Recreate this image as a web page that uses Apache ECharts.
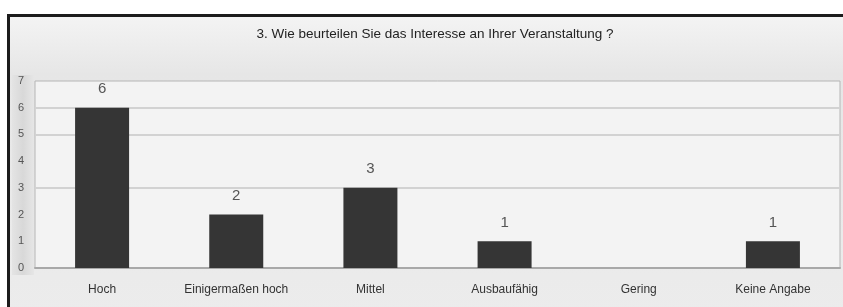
<!DOCTYPE html>
<html>
<head>
<meta charset="utf-8">
<script src="https://cdn.jsdelivr.net/npm/echarts@6/dist/echarts.min.js"></script>
<style>
  html, body { margin: 0; padding: 0; background: #fff; }
  #main { width: 843px; height: 307px; }
</style>
</head>
<body>
<div id="main"></div>
<script>
// Daten der Umfrage
let categories = ['Hoch', 'Einigermaßen hoch', 'Mittel', 'Ausbaufähig', 'Gering', 'Keine Angabe'];
let counts = [6, 2, 3, 1, 0, 1];
let yTicks = [0, 1, 2, 3, 4, 5, 6, 7];
let titleText = '3. Wie beurteilen Sie das Interesse an Ihrer Veranstaltung ?';

let myChart = echarts.init(document.getElementById('main'));

let option = {
  backgroundColor: '#fff',
  animation: false,
  textStyle: { fontFamily: 'Liberation Sans, Arial, sans-serif' },
  graphic: [
    // äußerer Rahmen mit Verlauf
    {
      type: 'rect', z: -10,
      shape: { x: 8.5, y: 15.5, width: 840, height: 300 },
      style: {
        fill: new echarts.graphic.LinearGradient(0, 0, 0, 1, [
          { offset: 0, color: '#f4f4f4' },
          { offset: 0.2, color: '#e6e6e6' },
          { offset: 1, color: '#ececec' }
        ]),
        stroke: '#1c1c1c', lineWidth: 3
      }
    },
    // Streifen hinter den y-Labels
    {
      type: 'rect', z: -9,
      shape: { x: 12, y: 75, width: 22, height: 200 },
      style: {
        fill: new echarts.graphic.LinearGradient(0, 0, 1, 0, [
          { offset: 0, color: '#e4e4e4' },
          { offset: 0.5, color: '#d8d8d8' },
          { offset: 1, color: '#e6e6e6' }
        ])
      }
    }
  ],
  title: {
    text: titleText,
    left: 430, top: 22,
    textAlign: 'center',
    textStyle: { fontSize: 13.5, fontWeight: 'normal', color: '#222' }
  },
  grid: {
    left: 35, right: 3, top: 81, bottom: 39,
    show: true,
    backgroundColor: '#f3f3f3',
    borderColor: '#b5b5b5',
    borderWidth: 1
  },
  xAxis: {
    type: 'category',
    data: categories,
    axisLine: { show: true, lineStyle: { color: '#a8a8a8', width: 2 } },
    axisTick: { show: false },
    axisLabel: { color: '#333', fontSize: 12, margin: 16, interval: 0 }
  },
  yAxis: {
    type: 'value',
    min: yTicks[0],
    max: yTicks[yTicks.length - 1],
    interval: 1,
    axisLine: { show: false },
    axisTick: { show: false },
    axisLabel: { color: '#555', fontSize: 11, margin: 11 },
    splitLine: {
      show: true,
      lineStyle: {
        width: 2,
        color: ['rgba(0,0,0,0)', 'rgba(0,0,0,0)', 'rgba(0,0,0,0)', '#d2d2d2', 'rgba(0,0,0,0)', '#d2d2d2', '#d2d2d2', 'rgba(0,0,0,0)']
      }
    }
  },
  series: [
    {
      type: 'bar',
      data: counts,
      barWidth: 54,
      itemStyle: { color: '#353535', borderWidth: 0 },
      label: {
        show: true,
        position: 'top',
        distance: 11,
        color: '#555',
        fontSize: 15,
        formatter: function (p) { return p.value === 0 ? '' : p.value; }
      }
    }
  ]
};

myChart.setOption(option);
</script>
</body>
</html>
